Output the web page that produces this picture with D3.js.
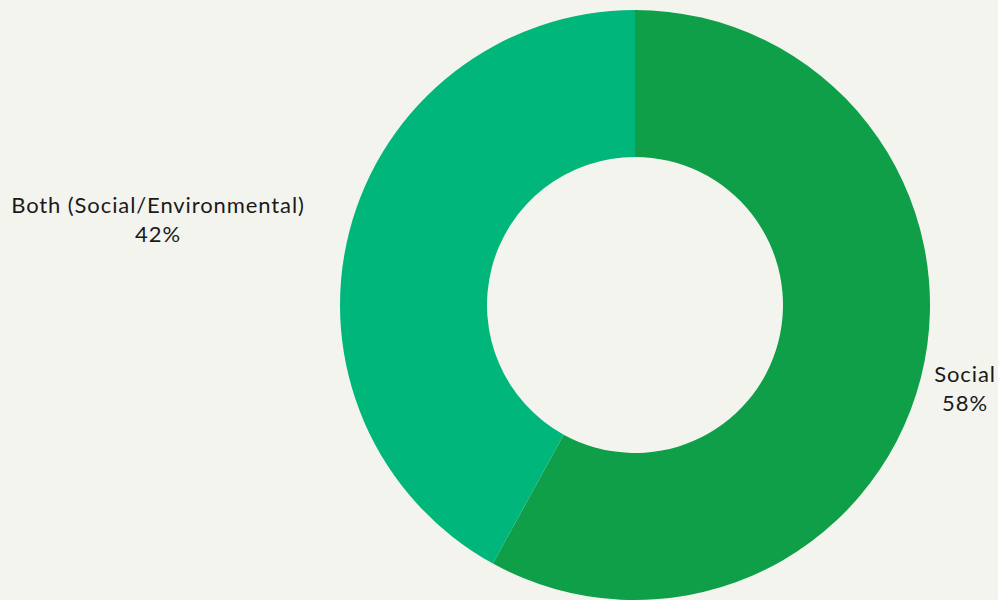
<!DOCTYPE html>
<html>
<head>
<meta charset="utf-8">
<script src="https://cdn.jsdelivr.net/npm/d3@7"></script>
<style>
    html, body { margin: 0; padding: 0; background: #f4f4ef; }
    svg { display: block; }
    text { font-family: "Lato", "Open Sans", sans-serif; fill: #1a1a1a; }
</style>
</head>
<body>
<svg id="chart" width="998" height="600"></svg>
<script>
// Chart data
const categories = ["Social", "Both (Social/Environmental)"];
const values = [58, 42];
const colors = ["#0e9f48", "#00b67a"];

const width = 998, height = 600;
const cx = 635, cy = 305;
const outerR = 295, innerR = 148;

const svg = d3.select("#chart");

const pie = d3.pie().sort(null).value(d => d.value);
const data = categories.map((c, i) => ({ name: c, value: values[i], color: colors[i] }));
const arcs = pie(data);

const arc = d3.arc().innerRadius(innerR).outerRadius(outerR);

const g = svg.append("g").attr("transform", `translate(${cx},${cy})`);

g.selectAll("path")
    .data(arcs)
    .join("path")
    .attr("d", arc)
    .attr("fill", d => d.data.color);

// Labels placed outside the ring
const labelPos = [
    { x: 965, y: 382 },
    { x: 158, y: 213 }
];

const labels = svg.append("g");
arcs.forEach((a, i) => {
    const t = labels.append("text")
        .attr("x", labelPos[i].x)
        .attr("y", labelPos[i].y)
        .attr("text-anchor", "middle")
        .attr("font-size", 22)
        .attr("letter-spacing", 0.9);
    t.append("tspan").attr("x", labelPos[i].x).text(a.data.name);
    t.append("tspan").attr("x", labelPos[i].x).attr("dy", 29).text(a.data.value + "%");
});
</script>
</body>
</html>
